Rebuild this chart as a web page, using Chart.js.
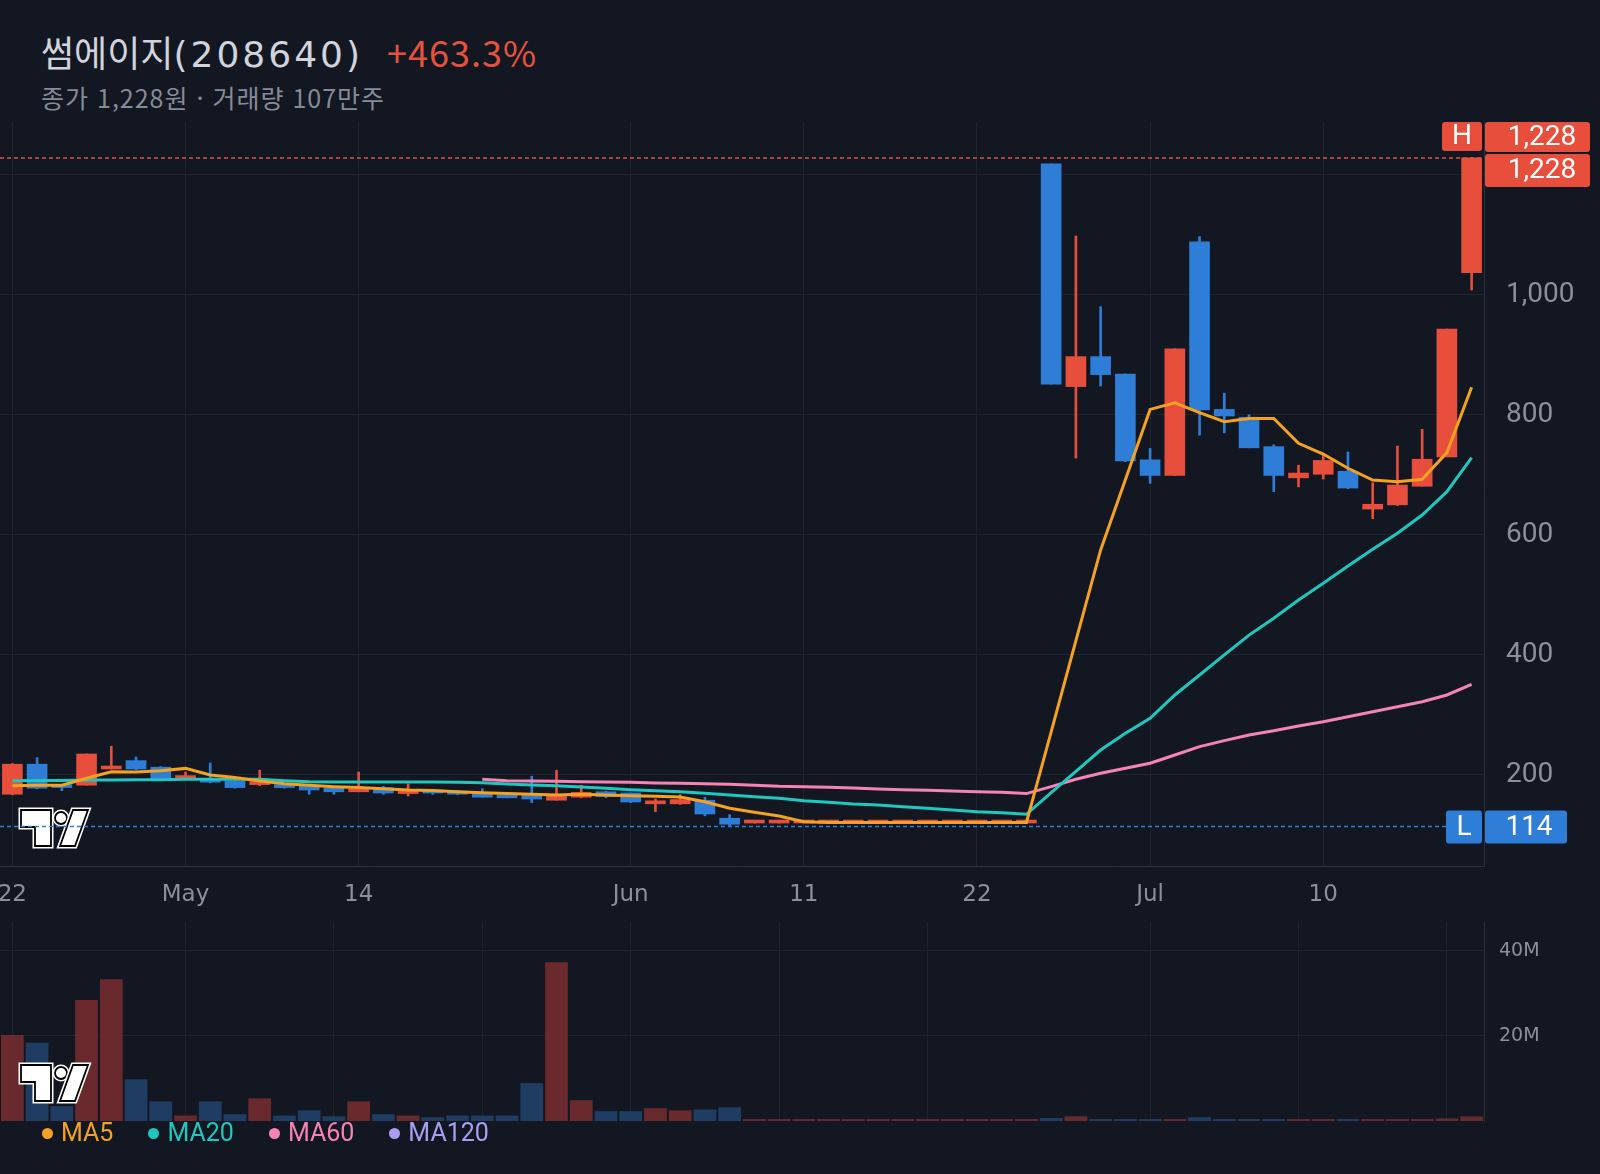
<!DOCTYPE html>
<html lang="ko">
<head>
    <meta charset="UTF-8">
    <title>썸에이지(208640)</title>
    <style>
        body {
            margin: 0;
            width: 1600px;
            height: 1174px;
            overflow: hidden;
            position: relative;
            background: #131722;
            font-family: 'Noto Sans CJK KR', sans-serif;
        }
        .title {
            position: absolute;
            left: 41px;
            top: 24px;
            font-size: 36px;
            line-height: 54px;
            color: #d1d4dc;
            white-space: nowrap;
        }
        .title .code { font-family: 'DejaVu Sans', sans-serif; letter-spacing: 3px; }
        .title .chg { color: #e5533f; margin-left: 24px; letter-spacing: 1px; }
        .sub {
            position: absolute;
            left: 41px;
            top: 82px;
            font-size: 25px;
            line-height: 30px;
            letter-spacing: 1px;
            color: #868b96;
            white-space: nowrap;
        }
        .chart-box { position: absolute; left: 0; width: 1600px; }
        #legend {
            position: absolute;
            left: 42px;
            top: 1119px;
            display: flex;
            gap: 35px;
            font-family: Roboto, sans-serif;
            font-size: 25px;
            line-height: 28px;
        }
        #legend span { display: flex; align-items: center; gap: 8px; }
        #legend i { width: 11px; height: 11px; border-radius: 50%; display: inline-block; }
    </style>
</head>
<body>
    <div class="title">썸에이지<span class="code">(208640)</span><span class="chg">+463.3%</span></div>
    <div class="sub">종가 1,228원 · 거래량 107만주</div>

    <div class="chart-box" style="top:110px;height:800px"><canvas id="priceChart"></canvas></div>
    <div class="chart-box" style="top:905px;height:220px"><canvas id="volumeChart"></canvas></div>
    <div id="legend"></div>

    <script src="https://cdn.jsdelivr.net/npm/chart.js"></script>
    <script>
        // trading days (MM-DD)
        const dates = [
            '04-22','04-23','04-24','04-27','04-28','04-29','04-30','05-04','05-06','05-07',
            '05-08','05-11','05-12','05-13','05-14','05-15','05-18','05-19','05-20','05-21',
            '05-22','05-25','05-26','05-27','05-28','06-01','06-02','06-03','06-04','06-05',
            '06-08','06-09','06-11','06-12','06-15','06-16','06-17','06-18','06-19','06-22',
            '06-23','06-24','06-25','06-26','06-29','06-30','07-01','07-02','07-03','07-06',
            '07-07','07-08','07-09','07-10','07-13','07-14','07-15','07-16','07-17','07-20'
        ];
        const opens = [
            168, 218, 183, 183, 210, 224, 213, 194, 194, 190,
            184, 184, 182, 178, 172, 179, 169, 173, 173, 170,
            167, 167, 158, 163, 172, 170, 152, 152, 158, 128,
            120, 120, 120, 120, 120, 120, 120, 120, 120, 120,
            120, 120, 1218, 847, 897, 868, 725, 699, 1088, 809,
            796, 747, 695, 701, 706, 643, 650, 681, 730, 1037
        ];
        const highs = [
            219, 229, 184, 235, 248, 230, 214, 205, 220, 191,
            208, 185, 182, 178, 205, 181, 185, 173, 174, 177,
            167, 198, 208, 183, 173, 170, 160, 167, 163, 134,
            120, 120, 120, 120, 120, 120, 120, 120, 120, 120,
            120, 120, 1218, 1098, 980, 868, 744, 910, 1097, 836,
            800, 750, 716, 733, 738, 687, 748, 776, 943, 1228
        ];
        const lows = [
            167, 177, 174, 183, 210, 209, 193, 194, 187, 178,
            182, 178, 168, 168, 172, 168, 165, 168, 167, 163,
            162, 154, 158, 162, 162, 154, 139, 151, 132, 114,
            120, 120, 120, 120, 120, 120, 120, 120, 120, 120,
            120, 120, 851, 728, 848, 722, 686, 699, 766, 770,
            745, 672, 680, 693, 677, 627, 649, 681, 730, 1008
        ];
        const closes = [
            218, 178, 179, 235, 214, 210, 193, 197, 188, 179,
            189, 179, 175, 172, 177, 170, 174, 170, 168, 163,
            162, 160, 167, 171, 164, 155, 157, 159, 135, 118,
            120, 120, 120, 120, 120, 120, 120, 120, 120, 120,
            120, 120, 851, 897, 867, 723, 699, 910, 808, 798,
            745, 699, 703, 724, 678, 651, 683, 726, 943, 1228
        ];
        // 거래량 (백만주)
        const volumes = [
            20.2, 18.4, 3.5, 28.4, 33.3, 9.8, 4.6, 1.3, 4.6, 1.6,
            5.3, 1.3, 2.5, 1.1, 4.6, 1.6, 1.3, 0.9, 1.3, 1.3,
            1.3, 8.9, 37.3, 4.9, 2.3, 2.3, 3.0, 2.5, 2.7, 3.2,
            0.45, 0.45, 0.45, 0.45, 0.45, 0.45, 0.45, 0.45, 0.45, 0.45,
            0.45, 0.45, 0.7, 1.1, 0.45, 0.45, 0.45, 0.45, 0.9, 0.45,
            0.45, 0.45, 0.45, 0.45, 0.45, 0.45, 0.45, 0.45, 0.6, 1.07
        ];
        const ma5 = [
            182, 183, 183, 194.5, 205.5, 205, 207, 211, 200, 196,
            190, 185.5, 183, 180.6, 179, 177, 175, 174, 172, 170.5,
            169, 168, 166.7, 167.8, 166.7, 165.6, 164.5, 163.4, 155.5, 144.5,
            138, 131.7, 122.2, 121, 121, 121, 121, 121, 121, 121,
            121, 121, 272, 424, 575, 692, 809, 820, 803.5, 788.5,
            794, 794, 752.6, 734.7, 711, 691.4, 688.6, 692.6, 737, 846
        ];
        const ma20 = [
            190.5, 191, 191, 191.7, 191.7, 192, 192, 192.8, 192.8, 192.8,
            192.8, 190.5, 188.9, 188.3, 188.3, 188.3, 188.3, 188.3, 188, 187.2,
            185, 183.5, 182, 180, 178, 175.5, 173.9, 172.2, 169.5, 166.7,
            163.6, 161.2, 157.2, 154.5, 151.7, 150, 147.2, 144.5, 141.7, 138.9,
            137.2, 134.5, 170.5, 205.9, 241.6, 269.4, 294.4, 333.3, 366.6, 400,
            433, 461, 491.5, 519.3, 548, 576, 602.6, 633, 672, 728.6
        ];
        const ma60 = [
            null, null, null, null, null, null, null, null, null, null,
            null, null, null, null, null, null, null, null, null, 192.8,
            190.5, 190, 189.5, 188.9, 188.3, 187.8, 186.7, 186.1, 185.5, 184.5,
            182.8, 181.1, 180.6, 179.5, 178.3, 176.7, 175.5, 174.5, 173.3, 172.2,
            171.1, 169, 180.6, 192.8, 202.8, 211.1, 219.5, 233.3, 247.2, 257.2,
            266.6, 273.8, 281.6, 288.8, 297.1, 305.4, 313.8, 322.1, 333.3, 351
        ];

        const tickDates = ['04-22', '05-04', '05-14', '06-01', '06-11', '06-22', '07-01', '07-10'];
        const tickTexts = ['22', 'May', '14', 'Jun', '11', '22', 'Jul', '10'];
        const volGridDates = ['04-22', '05-04', '05-13', '05-21', '06-01', '06-09', '06-18', '07-01', '07-09', '07-17'];
        const priceTicks = [200, 400, 600, 800, 1000, 1200];
        const volTicks = [20, 40];
        const maNames = ['MA5', 'MA20', 'MA60', 'MA120'];
        const maColors = ['#f5a220', '#1ec8bf', '#f584b4', '#a99ff2'];

        const UP = '#e84e3c', DOWN = '#2e7dd7';
        const UP_VOL = '#6a2a2d', DOWN_VOL = '#1f3d63';
        const GRID = '#1f232e', BORDER = '#2c303b', AXIS_TXT = '#8b8f9a';

        const candleColors = closes.map((c, i) => c >= opens[i] ? UP : DOWN);
        const volColors = closes.map((c, i) => c >= opens[i] ? UP_VOL : DOWN_VOL);

        Chart.defaults.font.family = 'Roboto, sans-serif';

        // TradingView 로고 (워터마크)
        function drawLogo(ctx, x, y) {
            ctx.save();
            ctx.translate(x, y);
            const shapes = [
                c => { c.moveTo(0, 0); c.lineTo(30, 0); c.lineTo(30, 36); c.lineTo(14, 36); c.lineTo(14, 17); c.lineTo(0, 17); c.closePath(); },
                c => { c.arc(40, 8, 6, 0, Math.PI * 2); },
                c => { c.moveTo(52, 0); c.lineTo(67, 0); c.lineTo(54, 36); c.lineTo(39, 36); c.closePath(); }
            ];
            shapes.forEach(fn => {
                ctx.beginPath(); fn(ctx);
                ctx.lineJoin = 'miter';
                ctx.strokeStyle = '#ffffff'; ctx.lineWidth = 5; ctx.stroke();
                ctx.fillStyle = '#ffffff'; ctx.fill();
                ctx.strokeStyle = '#000000'; ctx.lineWidth = 1.8; ctx.stroke();
            });
            ctx.restore();
        }
        const logoPlugin = {
            id: 'tvLogo',
            afterDatasetsDraw(chart) {
                const a = chart.chartArea;
                drawLogo(chart.ctx, a.left + 21, a.bottom - 56);
            }
        };

        function tagBox(ctx, x, y, w, h, color, text, textX) {
            ctx.fillStyle = color;
            ctx.beginPath();
            ctx.roundRect(x, y, w, h, 3);
            ctx.fill();
            ctx.fillStyle = '#ffffff';
            ctx.font = '28px Roboto';
            ctx.textAlign = 'center';
            ctx.textBaseline = 'middle';
            ctx.fillText(text, textX, y + h / 2 + 1);
        }

        // 고가/저가 표시
        const hiLoPlugin = {
            id: 'hiLo',
            afterDraw(chart) {
                const { ctx, chartArea: a, scales: { y } } = chart;
                const hi = Math.max(...highs), lo = Math.min(...lows);
                const last = closes[closes.length - 1];
                const yh = y.getPixelForValue(hi), yl = y.getPixelForValue(lo);
                const yc = y.getPixelForValue(last);
                ctx.save();
                ctx.lineWidth = 1.5;
                ctx.setLineDash([4, 3]);
                ctx.strokeStyle = UP;
                ctx.beginPath(); ctx.moveTo(a.left, yh); ctx.lineTo(a.right, yh); ctx.stroke();
                ctx.strokeStyle = DOWN;
                ctx.beginPath(); ctx.moveTo(a.left, yl); ctx.lineTo(a.right - 38, yl); ctx.stroke();
                ctx.setLineDash([]);
                tagBox(ctx, a.right - 42, yh - 36, 40, 29, UP, 'H', a.right - 22);
                tagBox(ctx, a.right + 1, yh - 36, 105, 30, UP, hi.toLocaleString('en-US'), a.right + 58);
                tagBox(ctx, a.right + 1, yc - 4, 105, 33, UP, last.toLocaleString('en-US'), a.right + 58);
                tagBox(ctx, a.right - 38, yl - 16, 36, 33, DOWN, 'L', a.right - 20);
                tagBox(ctx, a.right + 1, yl - 16, 82, 33, DOWN, lo.toLocaleString('en-US'), a.right + 45);
                ctx.restore();
            }
        };

        const xIdx = list => list.map(d => ({ value: dates.indexOf(d) }));

        new Chart(document.getElementById('priceChart'), {
            type: 'bar',
            data: {
                labels: dates,
                datasets: [
                    { type: 'line', label: 'MA5', data: ma5, borderColor: maColors[0], borderWidth: 3, pointRadius: 0, order: 0 },
                    { type: 'line', label: 'MA20', data: ma20, borderColor: maColors[1], borderWidth: 3, pointRadius: 0, order: 0 },
                    { type: 'line', label: 'MA60', data: ma60, borderColor: maColors[2], borderWidth: 3, pointRadius: 0, order: 0 },
                    {
                        label: 'body', data: opens.map((o, i) => [o, closes[i]]),
                        backgroundColor: candleColors, barThickness: 20, minBarLength: 3,
                        grouped: false, order: 1
                    },
                    {
                        label: 'wick', data: lows.map((l, i) => [l, highs[i]]),
                        backgroundColor: candleColors, barThickness: 2,
                        grouped: false, order: 2
                    }
                ]
            },
            options: {
                responsive: true,
                maintainAspectRatio: false,
                animation: false,
                layout: { padding: { top: 12, left: 0, right: 0, bottom: 0 } },
                plugins: { legend: { display: false }, tooltip: { enabled: false } },
                scales: {
                    x: {
                        offset: true,
                        afterBuildTicks: s => { s.ticks = xIdx(tickDates); },
                        afterFit: s => { s.height = 44; s.paddingLeft = 0; s.paddingRight = 0; },
                        grid: { color: GRID, offset: false, drawTicks: false },
                        border: { display: true, color: BORDER },
                        ticks: {
                            autoSkip: false, maxRotation: 0, padding: 15,
                            color: AXIS_TXT, font: { family: 'DejaVu Sans', size: 23 },
                            callback: v => tickTexts[tickDates.indexOf(dates[v])]
                        }
                    },
                    y: {
                        position: 'right',
                        min: 48.4,
                        max: 1287.8,
                        afterBuildTicks: s => { s.ticks = priceTicks.map(v => ({ value: v })); },
                        afterFit: s => { s.width = 116; s.paddingTop = 0; s.paddingBottom = 0; },
                        grid: { color: GRID, drawTicks: false },
                        border: { display: true, color: BORDER },
                        ticks: {
                            padding: 22, color: AXIS_TXT, font: { size: 28 },
                            callback: v => v.toLocaleString('en-US')
                        }
                    }
                }
            },
            plugins: [logoPlugin, hiLoPlugin]
        });

        new Chart(document.getElementById('volumeChart'), {
            type: 'bar',
            data: {
                labels: dates,
                datasets: [{
                    label: 'volume', data: volumes, backgroundColor: volColors,
                    barPercentage: 0.92, categoryPercentage: 1.0
                }]
            },
            options: {
                responsive: true,
                maintainAspectRatio: false,
                animation: false,
                layout: { padding: { top: 17, left: 0, right: 0, bottom: 0 } },
                plugins: { legend: { display: false }, tooltip: { enabled: false } },
                scales: {
                    x: {
                        afterBuildTicks: s => { s.ticks = xIdx(volGridDates); },
                        afterFit: s => { s.height = 4; s.paddingLeft = 0; s.paddingRight = 0; },
                        grid: { color: GRID, offset: false, drawTicks: false },
                        border: { display: false },
                        ticks: { display: false }
                    },
                    y: {
                        position: 'right',
                        min: 0,
                        max: 46.75,
                        afterBuildTicks: s => { s.ticks = volTicks.map(v => ({ value: v })); },
                        afterFit: s => { s.width = 116; s.paddingTop = 0; s.paddingBottom = 0; },
                        grid: { color: GRID, drawTicks: false },
                        border: { display: true, color: BORDER },
                        ticks: {
                            padding: 15, color: AXIS_TXT, font: { family: 'DejaVu Sans', size: 19 },
                            callback: v => v + 'M'
                        }
                    }
                }
            },
            plugins: [logoPlugin]
        });

        // 범례
        document.getElementById('legend').innerHTML = maNames.map((n, i) =>
            `<span style="color:${maColors[i]}"><i style="background:${maColors[i]}"></i>${n}</span>`
        ).join('');
    </script>
</body>
</html>
